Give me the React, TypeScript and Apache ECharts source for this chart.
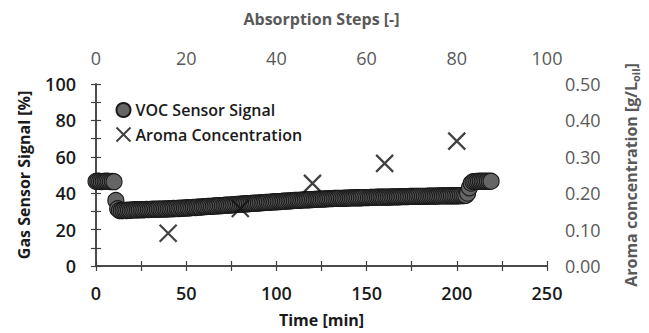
import React, { useEffect, useRef } from "react";
import * as echarts from "echarts";

// VOC sensor signal [%], one sample per minute starting at t = 0 min
const vocStartMin = 0;
const vocStepMin = 1;
const vocSignal: number[] = [
  46.5, 46.6, 46.5, 46.4, 46.5, 46.5, 46.6, 46.5, 46.4, 46.5, 46.3,
  36.0, 31.5, 30.5,
  30.4, 30.5, 30.6, 30.5, 30.7, 30.6, 30.8,
  30.8, 30.9, 30.8, 30.9, 31.0, 30.9, 31.0, 31.1, 31.0, 31.1,
  31.1, 31.2, 31.1, 31.2, 31.3, 31.2, 31.3, 31.4, 31.3, 31.4,
  31.5, 31.4, 31.6, 31.5, 31.7, 31.6, 31.8, 31.7, 31.9, 31.8,
  32.0, 31.9, 32.1, 32.2, 32.1, 32.3, 32.4, 32.3, 32.5, 32.6,
  32.6, 32.7, 32.8, 32.8, 32.9, 33.0, 33.0, 33.1, 33.2, 33.2,
  33.3, 33.4, 33.4, 33.5, 33.6, 33.6, 33.7, 33.8, 33.9, 34.0,
  34.0, 34.1, 34.2, 34.2, 34.3, 34.4, 34.4, 34.5, 34.6, 34.6,
  34.7, 34.8, 34.8, 34.9, 35.0, 35.0, 35.1, 35.2, 35.2, 35.3,
  35.4, 35.4, 35.5, 35.6, 35.6, 35.7, 35.8, 35.8, 35.9, 36.0,
  36.0, 36.1, 36.1, 36.2, 36.3, 36.3, 36.4, 36.4, 36.5, 36.5,
  36.6, 36.6, 36.7, 36.7, 36.8, 36.8, 36.9, 36.9, 37.0, 37.0,
  37.0, 37.1, 37.1, 37.1, 37.2, 37.2, 37.2, 37.3, 37.3, 37.3,
  37.4, 37.4, 37.4, 37.5, 37.5, 37.5, 37.5, 37.6, 37.6, 37.6,
  37.6, 37.7, 37.7, 37.7, 37.7, 37.8, 37.8, 37.8, 37.8, 37.9,
  37.9, 37.9, 37.9, 38.0, 38.0, 38.0, 38.0, 38.0, 38.1, 38.1,
  38.1, 38.1, 38.1, 38.2, 38.2, 38.2, 38.2, 38.2, 38.3, 38.3,
  38.3, 38.3, 38.3, 38.4, 38.4, 38.4, 38.4, 38.4, 38.4, 38.5,
  38.5, 38.5, 38.5, 38.5, 38.5, 38.6, 38.6, 38.6, 38.6, 38.6,
  38.6, 38.7, 38.7, 38.7, 38.8,
  40.0, 43.0, 45.5,
  46.3, 46.4, 46.5, 46.5, 46.6, 46.5, 46.6, 46.5, 46.6, 46.5, 46.6,
];

// Aroma concentration [g/L_oil] at absorption steps
const aromaSteps: number[] = [16, 32, 48, 64, 80];
const aromaConc: number[] = [0.09, 0.158, 0.227, 0.282, 0.343];

const FONT = "'Open Sans', 'Noto Sans', sans-serif";
const AXIS_COLOR = "#404040";
const GREY_TEXT = "#595959";

export default function App() {
  const ref = useRef<HTMLDivElement>(null);
  useEffect(() => {
    if (!ref.current) return;
    const chart = echarts.init(ref.current, undefined, { renderer: "svg" });
    const vocData = vocSignal.map((v, i) => [vocStartMin + i * vocStepMin, v]);
    const aromaData = aromaSteps.map((s, i) => [s, aromaConc[i]]);
    const line = { show: true, lineStyle: { color: AXIS_COLOR, width: 1.5 } };
    const tick = { show: true, inside: true, length: 5, lineStyle: { color: AXIS_COLOR, width: 1.2 } };
    const minor = { show: true, splitNumber: 2, length: 5, lineStyle: { color: AXIS_COLOR, width: 1.2 } };
    chart.setOption({
      animation: false,
      backgroundColor: "#fff",
      textStyle: { fontFamily: FONT },
      grid: { left: 96, right: 93, top: 84, bottom: 67, containLabel: false },
      legend: {
        orient: "vertical",
        left: 109,
        top: 97,
        itemGap: 7,
        itemWidth: 14,
        itemHeight: 14,
        textStyle: { fontFamily: FONT, fontSize: 16, color: "#1a1a1a", fontWeight: 600 },
        data: ["VOC Sensor Signal", "Aroma Concentration"],
      },
      xAxis: [
        {
          type: "value",
          position: "bottom",
          min: 0,
          max: 250,
          interval: 50,
          name: "Time [min]",
          nameLocation: "middle",
          nameGap: 46,
          nameTextStyle: { fontFamily: FONT, fontSize: 16, fontWeight: 700, color: "#1a1a1a" },
          axisLine: line,
          axisTick: tick,
          minorTick: minor,
          splitLine: { show: false },
          axisLabel: { fontFamily: FONT, fontSize: 18, fontWeight: 600, color: "#1a1a1a", margin: 18 },
        },
        {
          type: "value",
          position: "top",
          min: 0,
          max: 100,
          interval: 20,
          name: "Absorption Steps [-]",
          nameLocation: "middle",
          nameGap: 57,
          nameTextStyle: { fontFamily: FONT, fontSize: 16, fontWeight: 700, color: GREY_TEXT },
          axisLine: line,
          axisTick: tick,
          minorTick: minor,
          splitLine: { show: false },
          axisLabel: { fontFamily: FONT, fontSize: 18, color: GREY_TEXT, margin: 17 },
        },
      ],
      yAxis: [
        {
          type: "value",
          position: "left",
          min: 0,
          max: 100,
          interval: 20,
          name: "Gas Sensor Signal [%]",
          nameLocation: "middle",
          nameRotate: 90,
          nameGap: 64,
          nameTextStyle: { fontFamily: FONT, fontSize: 16, fontWeight: 700, color: "#1a1a1a" },
          axisLine: line,
          axisTick: tick,
          minorTick: minor,
          splitLine: { show: false },
          axisLabel: { fontFamily: FONT, fontSize: 18, fontWeight: 600, color: "#1a1a1a", margin: 20 },
        },
        {
          type: "value",
          position: "right",
          min: 0,
          max: 0.5,
          interval: 0.1,
          name: "Aroma concentration [g/L{sub|oil}]",
          nameLocation: "middle",
          nameRotate: 90,
          nameGap: 74,
          nameTextStyle: {
            fontFamily: FONT,
            fontSize: 16,
            fontWeight: 700,
            color: GREY_TEXT,
            rich: {
              sub: { fontFamily: FONT, fontSize: 11, fontWeight: 700, color: GREY_TEXT, padding: [9, 0, 0, 0] },
            },
          },
          axisLine: line,
          axisTick: tick,
          minorTick: minor,
          splitLine: { show: false },
          axisLabel: {
            fontFamily: FONT,
            fontSize: 18,
            color: GREY_TEXT,
            margin: 18,
            formatter: (v: number) => v.toFixed(2),
          },
        },
      ],
      series: [
        {
          name: "VOC Sensor Signal",
          type: "scatter",
          xAxisIndex: 0,
          yAxisIndex: 0,
          symbol: "circle",
          symbolSize: 16,
          itemStyle: { color: "#656565", borderColor: "#1a1a1a", borderWidth: 1.1, opacity: 1 },
          data: vocData,
        },
        {
          name: "Aroma Concentration",
          type: "scatter",
          xAxisIndex: 1,
          yAxisIndex: 1,
          symbol: "path://M0,0L10,10M10,0L0,10",
          symbolSize: 17,
          itemStyle: { color: "none", borderColor: "#111", borderWidth: 2.2 },
          data: aromaData,
          z: 5,
        },
      ],
    });
    return () => chart.dispose();
  }, []);
  return (
    <div
      ref={ref}
      style={{ position: "absolute", left: 0, top: 0, width: 649, height: 333 }}
    />
  );
}
